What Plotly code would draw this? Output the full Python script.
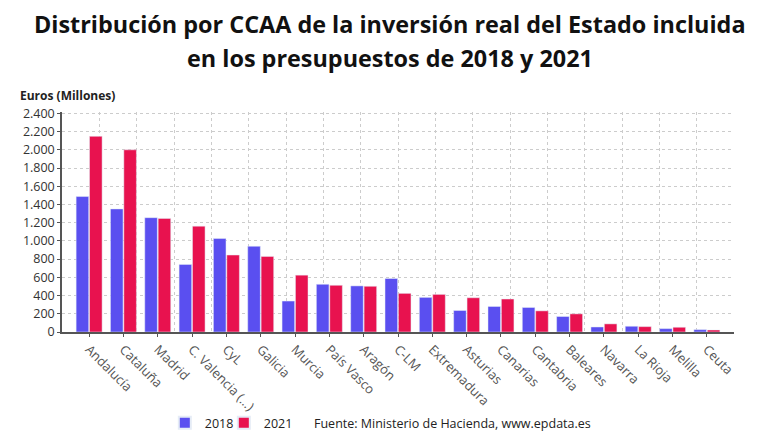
import plotly.graph_objects as go

ccaa = ["Andalucía", "Cataluña", "Madrid", "C. Valencia (...)", "CyL", "Galicia",
        "Murcia", "País Vasco", "Aragón", "C-LM", "Extremadura", "Asturias",
        "Canarias", "Cantabria", "Baleares", "Navarra", "La Rioja", "Melilla", "Ceuta"]
inv_2018 = [1487, 1351, 1255, 742, 1026, 941, 340, 524, 506, 587, 380, 236,
            280, 269, 170, 55, 63, 37, 26]
inv_2021 = [2148, 2000, 1247, 1162, 845, 830, 624, 513, 502, 424, 413, 376,
            362, 232, 199, 89, 59, 52, 22]
y_ticks = [0, 200, 400, 600, 800, 1000, 1200, 1400, 1600, 1800, 2000, 2200, 2400]

BLUE = "#5a4ff0"
RED = "#e8124f"
FONT = "Open Sans"

fig = go.Figure()
fig.add_trace(go.Bar(x=ccaa, y=inv_2018, name="2018", marker_color=BLUE))
fig.add_trace(go.Bar(x=ccaa, y=inv_2021, name="2021", marker_color=RED))
# blank legend entry so the narrow legend does not clip "2021"
fig.add_trace(go.Scatter(x=[None], y=[None], name="", mode="markers",
                         marker=dict(color="rgba(0,0,0,0)", size=1,
                                     line=dict(width=0)),
                         hoverinfo="skip"))

# vertical dotted grid is independent of categories in the original
fig.add_trace(go.Scatter(x=[0, 18], y=[0, 0], xaxis="x2", mode="markers",
                         marker_opacity=0, showlegend=False, hoverinfo="skip"))

# page body has an 8px margin, so the figure is 8px smaller than the window
fig.update_layout(
    width=772, height=432,
    margin=dict(l=54, r=46, t=104, b=108),
    paper_bgcolor="white", plot_bgcolor="white",
    font=dict(family=FONT, size=12, color="#333333"),
    separators=",.",
    barmode="group", bargap=0.22, bargroupgap=0.06,
    xaxis=dict(range=[-0.79, 18.79], tickangle=45, showgrid=False, automargin=False,
               showline=True, linecolor="#555555", linewidth=1.5,
               ticks="outside", ticklen=3, tickcolor="#555555",
               tickfont=dict(size=13, color="#555555")),
    xaxis2=dict(overlaying="x", range=[0, 18], dtick=1, showgrid=True,
                gridcolor="#cccccc", griddash="dot", showticklabels=False,
                zeroline=False),
    yaxis=dict(range=[0, 2415], tickvals=y_ticks, tickformat=",d", automargin=False,
               showgrid=True, gridcolor="#cccccc", griddash="dot",
               showline=True, linecolor="#555555", linewidth=1.5,
               ticks="outside", ticklen=3, tickcolor="#555555",
               zeroline=False, tickfont=dict(size=12.5, color="#333333")),
    legend=dict(orientation="h", x=0.153, xanchor="left",
                yref="container", y=0.039, yanchor="middle",
                bgcolor="rgba(0,0,0,0)",
                font=dict(size=12.5, color="#222222"), itemwidth=30,
                entrywidth=14, itemsizing="constant"),
    annotations=[
        dict(text="<b>Distribución por CCAA de la inversión real del Estado incluida</b>",
             xref="paper", yref="paper", x=0.488, y=1.399, xanchor="center",
             yanchor="middle", showarrow=False,
             font=dict(size=23.4, color="#111111")),
        dict(text="<b>en los presupuestos de 2018 y 2021</b>",
             xref="paper", yref="paper", x=0.488, y=1.247, xanchor="center",
             yanchor="middle", showarrow=False,
             font=dict(size=23.4, color="#111111")),
        dict(text="<b>Euros (Millones)</b>", xref="paper", yref="paper",
             x=-0.0655, y=1.073, xanchor="left", yanchor="middle", showarrow=False,
             font=dict(size=12, color="#222222")),
        dict(text="Fuente: Ministerio de Hacienda, www.epdata.es", xref="paper",
             yref="paper", x=0.372, y=-0.417, xanchor="left", yanchor="middle",
             showarrow=False, font=dict(size=12.5, color="#222222")),
    ],
)

fig.write_html("out.html")
